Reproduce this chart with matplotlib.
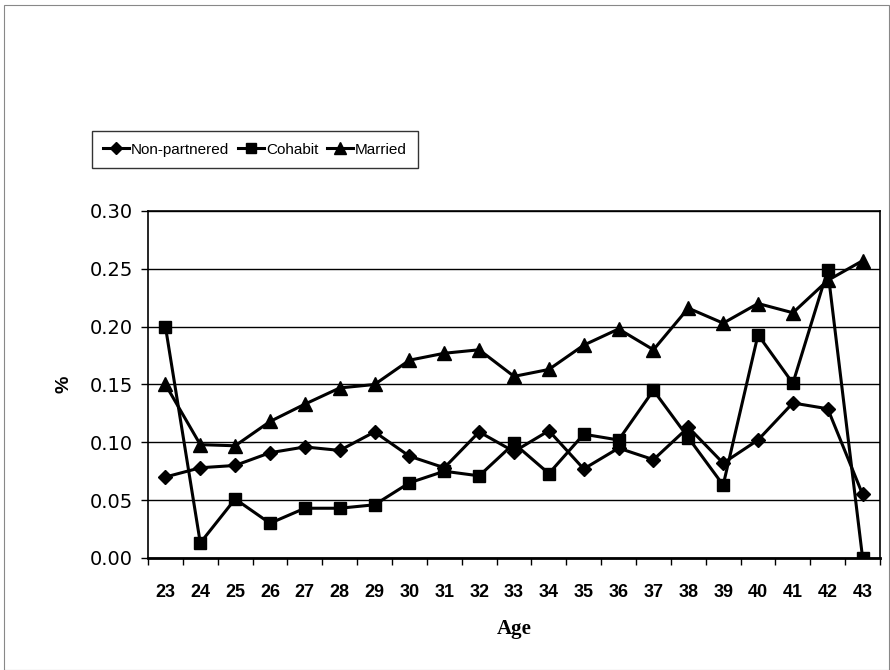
import matplotlib
matplotlib.use("Agg")
import matplotlib.pyplot as plt
import numpy as np

ages = list(range(23, 44))
non_partnered = [0.070, 0.078, 0.080, 0.091, 0.096, 0.093, 0.109, 0.088, 0.078, 0.109, 0.092,
                 0.110, 0.077, 0.095, 0.085, 0.113, 0.082, 0.102, 0.134, 0.129, 0.055]
cohabit = [0.200, 0.013, 0.051, 0.030, 0.043, 0.043, 0.046, 0.065, 0.075, 0.071, 0.099,
           0.073, 0.107, 0.102, 0.145, 0.104, 0.063, 0.193, 0.151, 0.249, 0.000]
married = [0.150, 0.098, 0.097, 0.118, 0.133, 0.147, 0.150, 0.171, 0.177, 0.180, 0.157,
           0.163, 0.184, 0.198, 0.180, 0.216, 0.203, 0.220, 0.212, 0.240, 0.257]
y_ticks = [0.00, 0.05, 0.10, 0.15, 0.20, 0.25, 0.30]

plt.rcParams['font.family'] = ['Liberation Sans', 'DejaVu Sans']

fig = plt.figure(figsize=(8.9, 6.7), dpi=100)
# thin frame round the whole chart
fig.add_artist(plt.Rectangle((0.004, 0.0), 0.995, 0.992, transform=fig.transFigure,
                             fill=False, edgecolor='#888888', lw=0.8))
ax = fig.add_axes([0.1663, 0.1672, 0.8225, 0.5179])

x = np.arange(len(ages))
ax.plot(x, non_partnered, color='black', lw=2.2, marker='D', ms=7.5, label='Non-partnered', zorder=3)
ax.plot(x, cohabit, color='black', lw=2.2, marker='s', ms=9, label='Cohabit', zorder=3)
ax.plot(x, married, color='black', lw=2.2, marker='^', ms=10, label='Married', zorder=3)

ax.set_xlim(-0.5, len(ages) - 0.5)
ax.set_ylim(0, 0.30)
ax.set_yticks(y_ticks)
ax.set_yticklabels(['%.2f' % v for v in y_ticks], family=['DejaVu Sans'], fontsize=14)
ax.set_xticks(x)
ax.set_xticklabels([str(a) for a in ages], fontweight='bold', fontsize=13)
ax.tick_params(axis='x', which='major', length=0, pad=19)
ax.set_xticks(np.arange(-0.5, len(ages)), minor=True)
ax.tick_params(axis='x', which='minor', length=5, direction='out', width=1)
ax.tick_params(axis='y', length=5, direction='out', width=1, pad=6)
ax.grid(axis='y', color='black', lw=1.0)
for s in ax.spines.values():
    s.set_linewidth(1.2)
ax.spines['bottom'].set_linewidth(2)

ax.set_xlabel('Age', family=['Liberation Serif'], fontweight='bold', fontsize=15, labelpad=13)
ax.set_ylabel('%', fontweight='bold', fontsize=14, labelpad=12)

leg = fig.legend(loc='lower left', bbox_to_anchor=(92 / 890, 1 - 168 / 670), ncol=3,
                 fontsize=11, frameon=True, fancybox=False, edgecolor='black',
                 markerscale=0.85, handlelength=1.7, columnspacing=0.6,
                 handletextpad=0.1, borderpad=0.75, borderaxespad=0)
leg.get_frame().set_linewidth(1.0)

fig.savefig('out.png', dpi=100)
